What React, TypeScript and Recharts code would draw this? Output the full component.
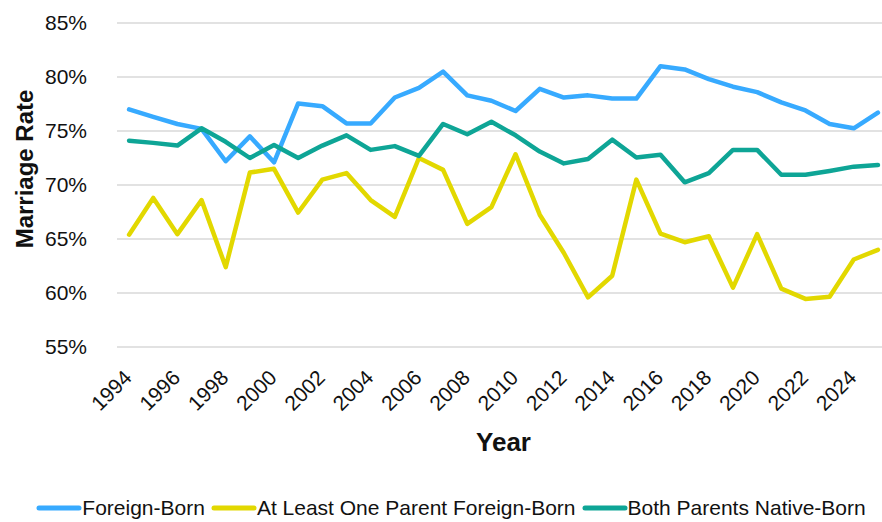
import { LineChart, Line, XAxis, YAxis, CartesianGrid, Legend, Label } from 'recharts';

const YEARS = [
  1994, 1995, 1996, 1997, 1998, 1999, 2000, 2001, 2002, 2003, 2004, 2005, 2006, 2007, 2008, 2009,
  2010, 2011, 2012, 2013, 2014, 2015, 2016, 2017, 2018, 2019, 2020, 2021, 2022, 2023, 2024, 2025,
];

const FOREIGN_BORN = [
  77.0, 76.3, 75.65, 75.2, 72.2, 74.5, 72.1, 77.55, 77.3, 75.7, 75.7, 78.1, 79.0, 80.5, 78.3, 77.8,
  76.85, 78.9, 78.1, 78.3, 78.0, 78.0, 81.0, 80.7, 79.8, 79.1, 78.6, 77.65, 76.9, 75.65, 75.25, 76.7,
];

const ONE_PARENT_FOREIGN = [
  65.4, 68.8, 65.45, 68.6, 62.4, 71.15, 71.5, 67.45, 70.5, 71.1, 68.6, 67.05, 72.5, 71.4, 66.4, 67.95,
  72.85, 67.25, 63.7, 59.6, 61.6, 70.5, 65.5, 64.7, 65.25, 60.5, 65.45, 60.4, 59.45, 59.65, 63.1, 64.0,
];

const BOTH_NATIVE = [
  74.1, 73.9, 73.65, 75.25, 74.0, 72.5, 73.7, 72.5, 73.65, 74.6, 73.25, 73.6, 72.7, 75.65, 74.7, 75.85,
  74.6, 73.1, 72.0, 72.4, 74.2, 72.55, 72.8, 70.25, 71.1, 73.25, 73.25, 70.95, 70.95, 71.3, 71.7, 71.85,
];

const X_TICKS = [1994, 1996, 1998, 2000, 2002, 2004, 2006, 2008, 2010, 2012, 2014, 2016, 2018, 2020, 2022, 2024];
const Y_TICKS = [55, 60, 65, 70, 75, 80, 85];

const SERIES = [
  { key: 'foreign', name: 'Foreign-Born', color: '#37aaff' },
  { key: 'oneParent', name: 'At Least One Parent Foreign-Born', color: '#e2d800' },
  { key: 'bothNative', name: 'Both Parents Native-Born', color: '#0ea596' },
];

const FONT = '"Liberation Sans", Arial, Helvetica, sans-serif';

const data = YEARS.map((year, i) => ({
  year,
  foreign: FOREIGN_BORN[i],
  oneParent: ONE_PARENT_FOREIGN[i],
  bothNative: BOTH_NATIVE[i],
}));

function YearTick(props: any) {
  const { x, y, payload } = props;
  return (
    <g transform={`translate(${x + 4},${y + 32})`}>
      <text textAnchor="end" transform="rotate(-45)" fontSize={21} fill="#111" fontFamily={FONT}>
        {payload.value}
      </text>
    </g>
  );
}

function LegendContent() {
  return (
    <div
      style={{
        display: 'flex',
        justifyContent: 'center',
        alignItems: 'center',
        fontFamily: FONT,
        fontSize: 21,
        color: '#111',
        whiteSpace: 'nowrap',
        paddingLeft: 26,
      }}
    >
      {SERIES.map((s) => (
        <span key={s.key} style={{ display: 'inline-flex', alignItems: 'center', marginRight: 6 }}>
          <svg width={46} height={8}>
            <line x1={3} y1={4} x2={43} y2={4} stroke={s.color} strokeWidth={5} strokeLinecap="round" />
          </svg>
          <span>{s.name}</span>
        </span>
      ))}
    </div>
  );
}

export default function App() {
  return (
    <div style={{ position: 'absolute', left: 0, top: 0, width: 882, height: 522, overflow: 'hidden', background: '#fff' }}>
      <LineChart width={890} height={522} data={data} margin={{ top: 23, right: 0, bottom: 121, left: 0 }}>
        <CartesianGrid vertical={false} stroke="#d9d9d9" strokeWidth={1.3} />
        <XAxis
          dataKey="year"
          type="number"
          domain={[1993.5, 2025.5]}
          ticks={X_TICKS}
          interval={0}
          axisLine={false}
          tickLine={false}
          tickSize={0}
          tickMargin={0}
          tick={<YearTick />}
        >
          <Label
            content={(p: any) => {
              const vb = p.viewBox;
              return (
                <text
                  x={vb.x + vb.width / 2}
                  y={vb.y + 104}
                  textAnchor="middle"
                  fontSize={26}
                  fontWeight="bold"
                  fill="#111"
                  fontFamily={FONT}
                >
                  Year
                </text>
              );
            }}
          />
        </XAxis>
        <YAxis
          width={117}
          domain={[55, 85]}
          ticks={Y_TICKS}
          axisLine={false}
          tickLine={false}
          tickSize={0}
          tickMargin={30}
          tickFormatter={(v: number) => `${v}%`}
          tick={{ fontSize: 21, fill: '#111', fontFamily: FONT }}
        >
          <Label
            content={(p: any) => {
              const vb = p.viewBox;
              const cx = vb.x + 33;
              const cy = vb.y + vb.height / 2 - 16;
              return (
                <text
                  x={cx}
                  y={cy}
                  textAnchor="middle"
                  transform={`rotate(-90, ${cx}, ${cy})`}
                  fontSize={24}
                  fontWeight="bold"
                  fill="#111"
                  fontFamily={FONT}
                >
                  Marriage Rate
                </text>
              );
            }}
          />
        </YAxis>
        <Legend
          verticalAlign="bottom"
          content={<LegendContent />}
          wrapperStyle={{ left: 0, width: 882, bottom: 2 }}
        />
        {SERIES.map((s) => (
          <Line
            key={s.key}
            dataKey={s.key}
            name={s.name}
            stroke={s.color}
            strokeWidth={4.5}
            strokeLinejoin="round"
            strokeLinecap="round"
            dot={false}
            activeDot={false}
            isAnimationActive={false}
          />
        ))}
      </LineChart>
    </div>
  );
}
